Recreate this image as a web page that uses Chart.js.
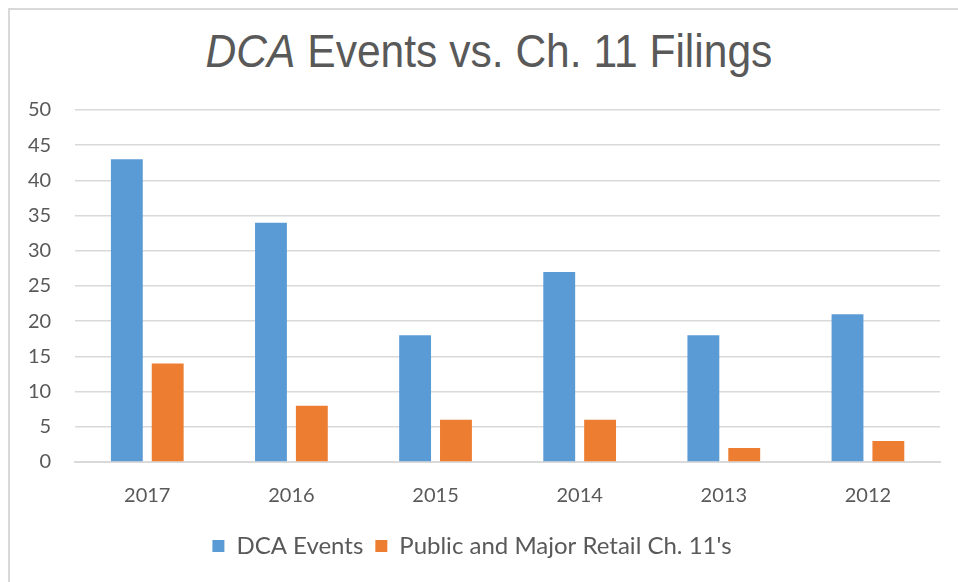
<!DOCTYPE html>
<html>
<head>
<meta charset="utf-8">
<script src="https://cdn.jsdelivr.net/npm/chart.js@4"></script>
<style>
  body { margin: 0; background: #fff; }
  #wrap { position: relative; width: 958px; height: 582px; }
  #frame { position: absolute; left: 8px; top: 8px; right: 0; bottom: 0;
    border-top: 2px solid #d9d9d9; border-left: 2px solid #d9d9d9; }
  #title { position: absolute; left: 10px; width: 958px; top: 24px; margin: 0;
    text-align: center; font: 400 46px "Liberation Sans", sans-serif; color: #595959;
    transform: scaleX(0.925); transform-origin: 479px 0; }
  canvas { position: absolute; left: 0; top: 0; }
</style>
</head>
<body>
<div id="wrap">
  <div id="frame"></div>
  <h1 id="title"><i>DCA</i> Events vs. Ch. 11 Filings</h1>
  <canvas id="chart" width="958" height="582"></canvas>
</div>
<script>
const years = ['2017', '2016', '2015', '2014', '2013', '2012'];
const dcaEvents = [43, 34, 18, 27, 18, 21];
const retailFilings = [14, 8, 6, 6, 2, 3];
const seriesNames = ['DCA Events', "Public and Major Retail Ch. 11's"];

const tickFont = { family: 'Lato, "Open Sans", sans-serif', size: 20 };
const textColor = '#595959';
const gridColor = '#d9d9d9';

new Chart(document.getElementById('chart'), {
  type: 'bar',
  data: {
    labels: years,
    datasets: [
      { label: seriesNames[0], data: dcaEvents, backgroundColor: '#5b9bd5' },
      { label: seriesNames[1], data: retailFilings, backgroundColor: '#ed7d31' }
    ]
  },
  options: {
    responsive: false,
    animation: false,
    categoryPercentage: 0.567,
    barPercentage: 0.78,
    layout: { padding: { top: 110, left: 4, right: 18, bottom: 14 } },
    plugins: {
      legend: {
        position: 'bottom',
        labels: { boxWidth: 12, boxHeight: 12, padding: 12, color: textColor,
          font: { family: 'Lato, "Open Sans", sans-serif', size: 24 } }
      },
      tooltip: { enabled: false }
    },
    scales: {
      x: {
        grid: { display: false },
        border: { color: gridColor, width: 2 },
        ticks: { color: textColor, font: tickFont, padding: 14 }
      },
      y: {
        min: 0, max: 50,
        ticks: { stepSize: 5, color: textColor, font: tickFont, padding: 24 },
        grid: { color: gridColor, lineWidth: 1.5, drawTicks: false },
        border: { display: false }
      }
    }
  }
});
</script>
</body>
</html>
